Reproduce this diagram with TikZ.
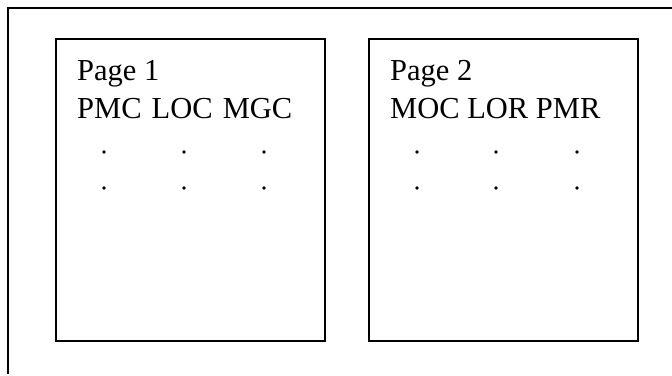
\documentclass[tikz,border=0pt]{standalone}
\usepackage{fontspec}
\setmainfont{Liberation Serif}
\begin{document}
\begin{tikzpicture}[x=1pt,y=-1pt,
  pagebox/.style={draw=black,line width=1.8pt,inner sep=0pt,anchor=north west},
  pagetext/.style={anchor=base west,inner sep=0pt,font=\fontsize{30.5}{36}\selectfont},
  dotmark/.style={circle,fill=black,inner sep=0pt,minimum size=3.8pt}]
\useasboundingbox (0,0) rectangle (672,375);
\draw[line width=1.8pt] (672,8) -- (8,8) -- (8,374);
\node[pagebox,minimum width=269pt,minimum height=302pt] (b1) at (55,38) {};
\node[pagebox,minimum width=269pt,minimum height=302pt] (b2) at (368,38) {};
\node[pagetext] (t1) at (77,80.5) {Page 1};
\node[pagetext] (l1) at (77,118) {PMC\hspace{2.5pt} LOC\hspace{2.5pt} MGC};
\node[pagetext] (t2) at (390,80.5) {Page 2};
\node[pagetext] (l2) at (390,118) {MOC LOR PMR};
\foreach \x/\n in {104/a,184/b,264/c}{
  \node[dotmark] (d1\n) at (\x,152) {};
  \node[dotmark] (e1\n) at (\x,188) {};
}
\foreach \x/\n in {417/a,496/b,577/c}{
  \node[dotmark] (d2\n) at (\x,152) {};
  \node[dotmark] (e2\n) at (\x,188) {};
}
\end{tikzpicture}
\end{document}
